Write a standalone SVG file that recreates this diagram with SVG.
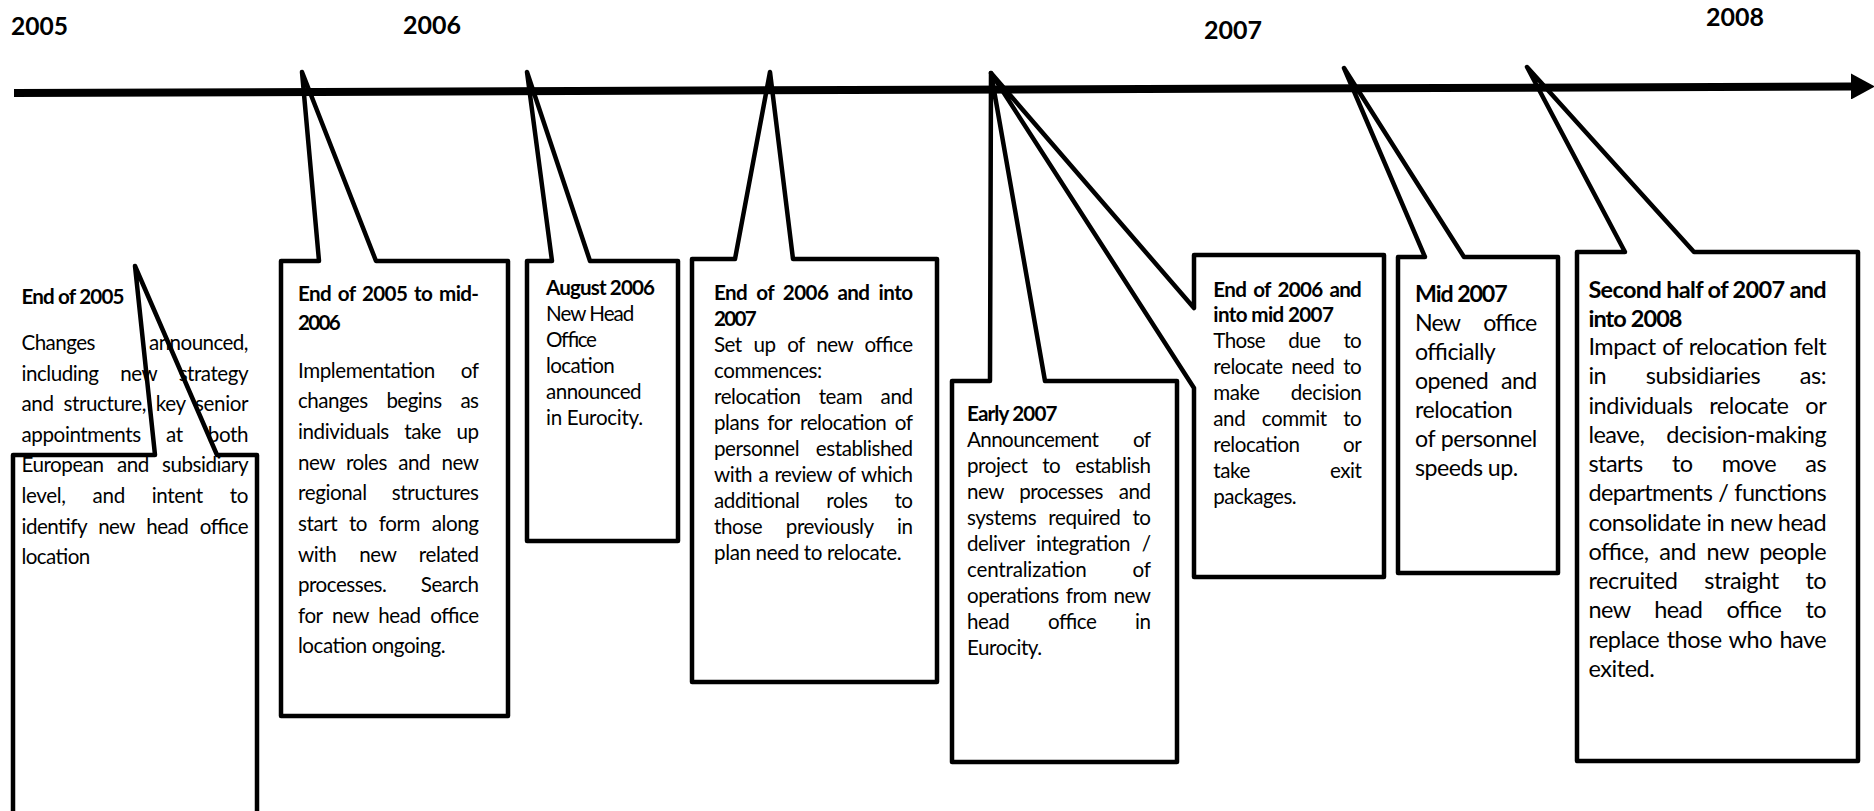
<svg xmlns="http://www.w3.org/2000/svg" width="1874" height="811" viewBox="0 0 1874 811">
<style>
text { font-family: Lato, "Liberation Sans", sans-serif; fill: #000; }
.b { font-weight: 700; }
.f20 { font-size: 20.6px; }
.f226 { font-size: 23.2px; }
.f229 { font-size: 23.5px; }
.yr { font-size: 25px; font-weight: 700; }
.box { fill: none; stroke: #000; stroke-width: 4.5; stroke-linejoin: round; stroke-linecap: round; }
.axis { stroke: #000; stroke-width: 8; fill: none; }
</style>
<defs>
<marker id="arrow" markerUnits="userSpaceOnUse" markerWidth="24" markerHeight="26" refX="0" refY="13" orient="auto" viewBox="0 0 24 26">
<path d="M0,0 L24,13 L0,26 Z" fill="#000"/>
</marker>
</defs>
<rect x="0" y="0" width="1874" height="811" fill="#fff"/>

<g id="years">
<text class="yr" x="11" y="34.5" textLength="57" lengthAdjust="spacingAndGlyphs">2005</text>
<text class="yr" x="403" y="33.5" textLength="58" lengthAdjust="spacingAndGlyphs">2006</text>
<text class="yr" x="1204" y="39" textLength="58" lengthAdjust="spacingAndGlyphs">2007</text>
<text class="yr" x="1706" y="26" textLength="58" lengthAdjust="spacingAndGlyphs">2008</text>
</g>

<g id="node-end-2005">
<text class="f20 b" x="21.5" y="304" textLength="103" lengthAdjust="spacing">End of 2005</text>
<text class="f20" x="21.5" y="350" textLength="227" lengthAdjust="spacing" style="word-spacing:49.5px">Changes announced,</text>
<text class="f20" x="21.5" y="380.6" textLength="227" lengthAdjust="spacing" style="word-spacing:17.1px">including new strategy</text>
<text class="f20" x="21.5" y="411.2" textLength="227" lengthAdjust="spacing" style="word-spacing:4.9px">and structure, key senior</text>
<text class="f20" x="21.5" y="441.8" textLength="227" lengthAdjust="spacing" style="word-spacing:20.3px">appointments at both</text>
<text class="f20" x="21.5" y="472.4" textLength="227" lengthAdjust="spacing" style="word-spacing:8.5px">European and subsidiary</text>
<text class="f20" x="21.5" y="503" textLength="227" lengthAdjust="spacing" style="word-spacing:22px">level, and intent to</text>
<text class="f20" x="21.5" y="533.6" textLength="227" lengthAdjust="spacing" style="word-spacing:6.9px">identify new head office</text>
<text class="f20" x="21.5" y="564.2" textLength="68.8" lengthAdjust="spacing">location</text>
<path class="box" d="M13,815 V455 H155 L135,266 L217,455 H257 V815"/>
</g>

<g id="node-end-2005-mid-2006">
<path class="box" d="M281,261 H319 L302,72 L376,261 H508 V716 H281 Z"/>
<text class="f20 b" x="298" y="301" textLength="181" lengthAdjust="spacing" style="word-spacing:2.5px">End of 2005 to mid-</text>
<text class="f20 b" x="298" y="330" textLength="42.6" lengthAdjust="spacing">2006</text>
<text class="f20" x="298" y="377.7" textLength="181" lengthAdjust="spacing" style="word-spacing:21.1px">Implementation of</text>
<text class="f20" x="298" y="408.3" textLength="181" lengthAdjust="spacing" style="word-spacing:14.1px">changes begins as</text>
<text class="f20" x="298" y="439" textLength="181" lengthAdjust="spacing" style="word-spacing:10.6px">individuals take up</text>
<text class="f20" x="298" y="469.6" textLength="181" lengthAdjust="spacing" style="word-spacing:6.6px">new roles and new</text>
<text class="f20" x="298" y="500.2" textLength="181" lengthAdjust="spacing" style="word-spacing:20.3px">regional structures</text>
<text class="f20" x="298" y="530.9" textLength="181" lengthAdjust="spacing" style="word-spacing:6.9px">start to form along</text>
<text class="f20" x="298" y="561.5" textLength="181" lengthAdjust="spacing" style="word-spacing:18px">with new related</text>
<text class="f20" x="298" y="592.1" textLength="181" lengthAdjust="spacing" style="word-spacing:29.7px">processes. Search</text>
<text class="f20" x="298" y="622.8" textLength="181" lengthAdjust="spacing" style="word-spacing:5px">for new head office</text>
<text class="f20" x="298" y="653.4" textLength="147.6" lengthAdjust="spacing">location ongoing.</text>
</g>

<g id="node-august-2006">
<path class="box" d="M527,261 H552 L527,72 L590,261 H678 V541 H527 Z"/>
<text class="f20 b" x="546" y="295" textLength="109" lengthAdjust="spacing">August 2006</text>
<text class="f20" x="546" y="321" textLength="88.4" lengthAdjust="spacing">New Head</text>
<text class="f20" x="546" y="347" textLength="50.9" lengthAdjust="spacing">Office</text>
<text class="f20" x="546" y="373" textLength="68.8" lengthAdjust="spacing">location</text>
<text class="f20" x="546" y="399" textLength="95.6" lengthAdjust="spacing">announced</text>
<text class="f20" x="546" y="425" textLength="97" lengthAdjust="spacing">in Eurocity.</text>
</g>

<g id="node-end-2006-into-2007">
<path class="box" d="M692,259 H735 L770,72 L793,259 H937 V682 H692 Z"/>
<text class="f20 b" x="714" y="300" textLength="199" lengthAdjust="spacing" style="word-spacing:4.7px">End of 2006 and into</text>
<text class="f20 b" x="714" y="326" textLength="42.6" lengthAdjust="spacing">2007</text>
<text class="f20" x="714" y="352" textLength="199" lengthAdjust="spacing" style="word-spacing:7.2px">Set up of new office</text>
<text class="f20" x="714" y="378" textLength="108.2" lengthAdjust="spacing">commences:</text>
<text class="f20" x="714" y="404" textLength="199" lengthAdjust="spacing" style="word-spacing:13.3px">relocation team and</text>
<text class="f20" x="714" y="430" textLength="199" lengthAdjust="spacing" style="word-spacing:3.6px">plans for relocation of</text>
<text class="f20" x="714" y="456" textLength="199" lengthAdjust="spacing" style="word-spacing:11.7px">personnel established</text>
<text class="f20" x="714" y="482" textLength="199" lengthAdjust="spacing" style="word-spacing:1.6px">with a review of which</text>
<text class="f20" x="714" y="508" textLength="199" lengthAdjust="spacing" style="word-spacing:21.9px">additional roles to</text>
<text class="f20" x="714" y="534" textLength="199" lengthAdjust="spacing" style="word-spacing:19px">those previously in</text>
<text class="f20" x="714" y="560" textLength="187.6" lengthAdjust="spacing">plan need to relocate.</text>
</g>

<g id="node-early-2007">
<path class="box" d="M952,381 H990 L991,73 L1045,381 H1177 V762 H952 Z"/>
<text class="f20 b" x="967" y="421" textLength="90.5" lengthAdjust="spacing">Early 2007</text>
<text class="f20" x="967" y="447" textLength="184" lengthAdjust="spacing" style="word-spacing:29.9px">Announcement of</text>
<text class="f20" x="967" y="473" textLength="184" lengthAdjust="spacing" style="word-spacing:10px">project to establish</text>
<text class="f20" x="967" y="499" textLength="184" lengthAdjust="spacing" style="word-spacing:11px">new processes and</text>
<text class="f20" x="967" y="525" textLength="184" lengthAdjust="spacing" style="word-spacing:7.3px">systems required to</text>
<text class="f20" x="967" y="551" textLength="184" lengthAdjust="spacing" style="word-spacing:6.7px">deliver integration /</text>
<text class="f20" x="967" y="577" textLength="184" lengthAdjust="spacing" style="word-spacing:41px">centralization of</text>
<text class="f20" x="967" y="603" textLength="184" lengthAdjust="spacing" style="word-spacing:2.2px">operations from new</text>
<text class="f20" x="967" y="629" textLength="184" lengthAdjust="spacing" style="word-spacing:34px">head office in</text>
<text class="f20" x="967" y="655" textLength="75.2" lengthAdjust="spacing">Eurocity.</text>
</g>

<g id="node-end-2006-into-mid-2007">
<path class="box" d="M1194,255 H1384 V577 H1194 V388 L991,73 L1194,308 Z"/>
<text class="f20 b" x="1213.3" y="296.5" textLength="148.5" lengthAdjust="spacing" style="word-spacing:2.7px">End of 2006 and</text>
<text class="f20 b" x="1213.3" y="322.4" textLength="120.6" lengthAdjust="spacing">into mid 2007</text>
<text class="f20" x="1213.3" y="348.3" textLength="148.5" lengthAdjust="spacing" style="word-spacing:18.7px">Those due to</text>
<text class="f20" x="1213.3" y="374.2" textLength="148.5" lengthAdjust="spacing" style="word-spacing:3.9px">relocate need to</text>
<text class="f20" x="1213.3" y="400.1" textLength="148.5" lengthAdjust="spacing" style="word-spacing:26.6px">make decision</text>
<text class="f20" x="1213.3" y="426" textLength="148.5" lengthAdjust="spacing" style="word-spacing:11.7px">and commit to</text>
<text class="f20" x="1213.3" y="451.9" textLength="148.5" lengthAdjust="spacing" style="word-spacing:38.8px">relocation or</text>
<text class="f20" x="1213.3" y="477.8" textLength="148.5" lengthAdjust="spacing" style="word-spacing:75.3px">take exit</text>
<text class="f20" x="1213.3" y="503.7" textLength="83.4" lengthAdjust="spacing">packages.</text>
</g>

<g id="node-mid-2007">
<path class="box" d="M1398,257 H1425 L1344,68 L1464,257 H1558 V573 H1398 Z"/>
<text class="f226 b" x="1415" y="302" textLength="92.7" lengthAdjust="spacing">Mid 2007</text>
<text class="f226" x="1415" y="331" textLength="122.3" lengthAdjust="spacing" style="word-spacing:18.6px">New office</text>
<text class="f226" x="1415" y="360" textLength="80.8" lengthAdjust="spacing">officially</text>
<text class="f226" x="1415" y="389" textLength="122.3" lengthAdjust="spacing" style="word-spacing:7.3px">opened and</text>
<text class="f226" x="1415" y="418" textLength="97.7" lengthAdjust="spacing">relocation</text>
<text class="f226" x="1415" y="447" textLength="122.3" lengthAdjust="spacing" style="word-spacing:0.8px">of personnel</text>
<text class="f226" x="1415" y="476" textLength="103.2" lengthAdjust="spacing">speeds up.</text>
</g>

<g id="node-second-half-2007">
<path class="box" d="M1577,252 H1625 L1527,67 L1694,252 H1858 V761 H1577 Z"/>
<text class="f229 b" x="1588.4" y="297.5" textLength="238.3" lengthAdjust="spacing">Second half of 2007 and</text>
<text class="f229 b" x="1588.4" y="326.5" textLength="94.1" lengthAdjust="spacing">into 2008</text>
<text class="f229" x="1588.4" y="355" textLength="238.3" lengthAdjust="spacing" style="word-spacing:0.9px">Impact of relocation felt</text>
<text class="f229" x="1588.4" y="384.3" textLength="238.3" lengthAdjust="spacing" style="word-spacing:33.9px">in subsidiaries as:</text>
<text class="f229" x="1588.4" y="413.5" textLength="238.3" lengthAdjust="spacing" style="word-spacing:11.1px">individuals relocate or</text>
<text class="f229" x="1588.4" y="442.8" textLength="238.3" lengthAdjust="spacing" style="word-spacing:16.5px">leave, decision-making</text>
<text class="f229" x="1588.4" y="472.1" textLength="238.3" lengthAdjust="spacing" style="word-spacing:23.7px">starts to move as</text>
<text class="f229" x="1588.4" y="501.4" textLength="238.3" lengthAdjust="spacing" style="word-spacing:0.6px">departments / functions</text>
<text class="f229" x="1588.4" y="530.6" textLength="238.3" lengthAdjust="spacing" style="word-spacing:0.3px">consolidate in new head</text>
<text class="f229" x="1588.4" y="559.9" textLength="238.3" lengthAdjust="spacing" style="word-spacing:5.2px">office, and new people</text>
<text class="f229" x="1588.4" y="589.2" textLength="238.3" lengthAdjust="spacing" style="word-spacing:21.2px">recruited straight to</text>
<text class="f229" x="1588.4" y="618.4" textLength="238.3" lengthAdjust="spacing" style="word-spacing:18.7px">new head office to</text>
<text class="f229" x="1588.4" y="647.7" textLength="238.3" lengthAdjust="spacing" style="word-spacing:2px">replace those who have</text>
<text class="f229" x="1588.4" y="677" textLength="66.5" lengthAdjust="spacing">exited.</text>
</g>

<g id="connectors">
<line class="axis" x1="14" y1="93" x2="1851" y2="86.5" marker-end="url(#arrow)"/>
</g>
</svg>
